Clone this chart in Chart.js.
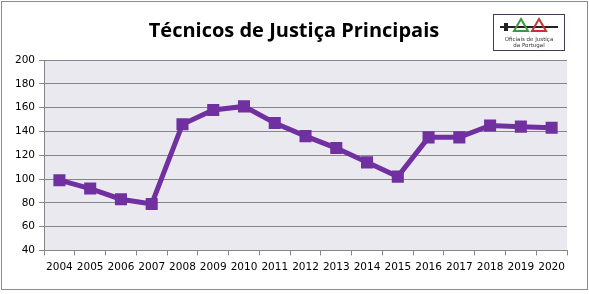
<!DOCTYPE html>
<html><head><meta charset="utf-8">
<script src="https://cdn.jsdelivr.net/npm/chart.js@4"></script>
<style>
html,body{margin:0;padding:0;background:#fff;}
#frame{position:absolute;left:1px;top:1px;width:585px;height:287px;border:1px solid #8c8c8c;}
#wrap{position:absolute;left:0;top:0;width:589px;height:294px;}
#title{position:absolute;left:94px;width:400px;top:16px;text-align:center;font-family:"Open Sans",sans-serif;font-weight:bold;font-size:20px;color:#000;}
#logo{position:absolute;left:493px;top:14px;width:70px;height:35px;border:1px solid #4a3a5a;background:#fff;font-family:"DejaVu Sans",sans-serif;font-size:5.5px;line-height:6px;text-align:center;color:#333;}
</style></head><body>
<div id="frame"></div>
<div id="wrap"><canvas id="c" width="589" height="294"></canvas></div>
<div id="title"></div>
<div id="logo"><svg width="70" height="20" viewBox="0 0 70 20">
<line x1="6" y1="12" x2="64" y2="12" stroke="#222" stroke-width="2"/>
<rect x="10" y="8" width="4" height="8" fill="#222"/>
<polygon points="27,4 20,16 34,16" fill="none" stroke="#3c9a3c" stroke-width="2"/>
<polygon points="45,4 38,16 52,16" fill="none" stroke="#c83232" stroke-width="2"/>
</svg><div>Oficiais de Justiça</div><div>da Portugal</div></div>
<script>
const years = ["2004","2005","2006","2007","2008","2009","2010","2011","2012","2013","2014","2015","2016","2017","2018","2019","2020"];
const values = [99, 92, 83, 79, 146, 158, 161, 147, 136, 126, 114, 102, 135, 135, 145, 144, 143];
const titleText = "Técnicos de Justiça Principais";
document.getElementById('title').textContent = titleText;

const bgPlugin = {
  id: 'bg',
  beforeDraw(chart) {
    const {ctx, chartArea: a} = chart;
    ctx.save();
    ctx.fillStyle = '#EBE9F0';
    ctx.fillRect(a.left, a.top, a.right - a.left, a.bottom - a.top);
    ctx.restore();
  }
};

new Chart(document.getElementById('c'), {
  type: 'line',
  data: {
    labels: years,
    datasets: [{
      data: values,
      borderColor: '#7030A0',
      backgroundColor: '#7030A0',
      borderWidth: 5,
      pointStyle: 'rect',
      pointRadius: 5,
      pointHoverRadius: 5,
      tension: 0,
      fill: false
    }]
  },
  options: {
    responsive: false,
    animation: false,
    layout: {padding: {left: 11, right: 22, top: 60, bottom: 14}},
    plugins: {
      legend: {display: false},
      tooltip: {enabled: false},
      title: {display: false}
    },
    scales: {
      x: {
        offset: true,
        grid: {display: true, drawOnChartArea: false, drawTicks: true, tickLength: 5, color: '#868686', offset: true},
        border: {display: true, color: '#868686'},
        ticks: {color: '#000', font: {family: '"DejaVu Sans", sans-serif', size: 10.5}, maxRotation: 0, autoSkip: false, padding: 6}
      },
      y: {
        min: 40, max: 200,
        grid: {color: '#868686', tickLength: 5, drawTicks: true},
        border: {display: true, color: '#868686'},
        ticks: {stepSize: 20, color: '#000', font: {family: '"DejaVu Sans", sans-serif', size: 10.5}, padding: 4}
      }
    }
  },
  plugins: [bgPlugin]
});
</script>
</body></html>
